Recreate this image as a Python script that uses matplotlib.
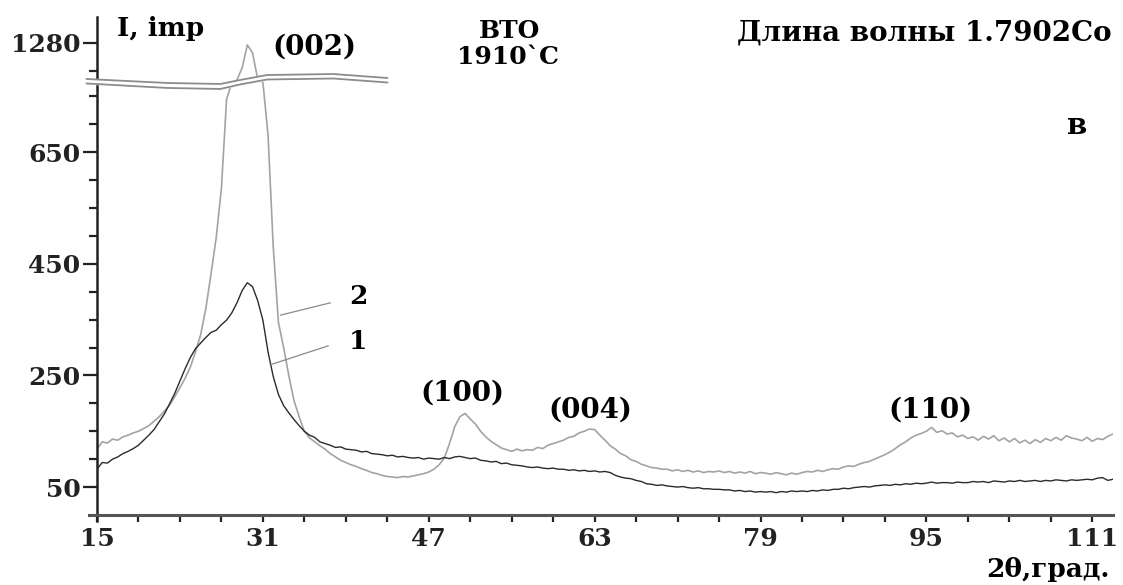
import numpy as np
import matplotlib
matplotlib.use("Agg")
import matplotlib.pyplot as plt
from matplotlib.ticker import FixedLocator
from matplotlib import transforms

plt.rcParams['font.family'] = ['DejaVu Serif']
plt.rcParams['font.weight'] = 'bold'

# --- data ---
two_theta = np.arange(15.0, 113.5, 0.5)

# curve 1 (dark)
I1 = [82, 94, 93, 100, 104, 110, 114, 119, 125, 134,
      143, 153, 167, 181, 199, 218, 240, 262, 282, 298,
      308, 318, 327, 331, 341, 349, 362, 380, 402, 416,
      409, 384, 349, 292, 248, 216, 196, 183, 171, 160,
      150, 143, 139, 131, 128, 125, 121, 122, 118, 117,
      116, 113, 114, 110, 109, 108, 106, 107, 104, 105,
      103, 102, 103, 100, 102, 101, 100, 103, 101, 104,
      105, 103, 101, 102, 98, 97, 95, 96, 92, 93,
      90, 89, 88, 86, 85, 86, 84, 83, 84, 82,
      82, 80, 81, 79, 80, 78, 79, 77, 78, 76,
      71, 68, 66, 65, 62, 60, 56, 55, 53, 54,
      52, 51, 50, 51, 49, 48, 49, 47, 47, 46,
      46, 45, 45, 43, 44, 42, 43, 41, 42, 41,
      42, 40, 42, 41, 43, 42, 43, 42, 44, 43,
      45, 44, 46, 46, 48, 47, 49, 50, 51, 50,
      52, 53, 54, 53, 55, 54, 56, 55, 57, 56,
      57, 59, 57, 58, 58, 57, 59, 58, 58, 60,
      59, 60, 58, 61, 60, 59, 61, 60, 62, 60,
      61, 62, 60, 62, 61, 63, 62, 61, 63, 62,
      63, 64, 63, 66, 67, 62, 64]

# curve 2 (light)
I2 = [118, 131, 129, 136, 134, 140, 143, 147, 150, 155,
      160, 168, 176, 186, 197, 212, 228, 245, 265, 292,
      323, 370, 432, 497, 585, 745, 850, 1160, 1235, 1276,
      1262, 1215, 950, 680, 480, 345, 300, 250, 205, 176,
      150, 138, 131, 124, 118, 110, 104, 98, 94, 90,
      87, 83, 80, 76, 74, 71, 69, 68, 67, 69,
      68, 70, 72, 74, 77, 82, 90, 102, 128, 158,
      176, 182, 172, 163, 150, 140, 132, 126, 120, 117,
      114, 118, 115, 117, 116, 121, 119, 125, 128, 131,
      134, 139, 141, 147, 150, 154, 153, 143, 134, 124,
      118, 110, 106, 99, 96, 91, 88, 85, 84, 82,
      82, 79, 81, 78, 80, 77, 79, 76, 78, 77,
      79, 76, 78, 75, 77, 75, 78, 74, 76, 75,
      73, 76, 74, 72, 75, 73, 76, 78, 77, 80,
      78, 81, 83, 82, 86, 88, 87, 91, 94, 96,
      100, 104, 108, 113, 119, 126, 131, 138, 143, 146,
      150, 157, 148, 151, 145, 147, 140, 143, 137, 140,
      134, 141, 136, 142, 133, 138, 131, 137, 129, 134,
      128, 135, 130, 137, 133, 139, 134, 142, 138, 136,
      133, 139, 132, 137, 135, 141, 145]

x_ticks = [15, 31, 47, 63, 79, 95, 111]
y_ticks = [50, 250, 450, 650, 1280]
y_minor = [100, 150, 200, 300, 350, 400, 500, 550, 600, 700, 750, 1230]

peak_labels = ["(002)", "(100)", "(004)", "(110)"]
peak_pos = [(36.0, 1272), (50.2, 218), (62.6, 188), (95.4, 188)]

# axis break shape (x in data, y in axes fraction)
band_x = [14.0, 21.8, 26.9, 28.8, 31.4, 37.8, 43.0]
band_top = [0.8755, 0.8675, 0.8655, 0.8735, 0.8835, 0.8855, 0.8775]
band_bot = [0.8665, 0.8575, 0.8555, 0.8645, 0.8745, 0.8765, 0.8685]

# --- broken y scale ---
b1, gap, off = 772.0, 8.0, 434.0
b2 = b1 + gap + off
k = gap / (b2 - b1)


def fwd(y):
    y = np.asarray(y, dtype=float)
    return np.where(y <= b1, y, np.where(y <= b2, b1 + (y - b1) * k, y - off))


def inv(t):
    t = np.asarray(t, dtype=float)
    return np.where(t <= b1, t, np.where(t <= b1 + gap, b1 + (t - b1) / k, t + off))


fig = plt.figure(figsize=(11.23, 5.85), dpi=100)
ax = fig.add_axes([97 / 1123, 70 / 585, 1016 / 1123, 498 / 585])
ax.set_yscale('function', functions=(fwd, inv))

ax.plot(two_theta, I2, color='#a3a3a3', lw=1.2, zorder=2)
ax.plot(two_theta, I1, color='#2b2b2b', lw=1.0, zorder=3)

ax.set_xlim(15, 113)
ax.set_ylim(0, 1326)

ax.set_xticks(x_ticks)
ax.xaxis.set_minor_locator(FixedLocator(np.arange(15, 113, 4)))
ax.set_yticks(y_ticks)
ax.yaxis.set_minor_locator(FixedLocator(y_minor))
ax.tick_params(axis='y', which='major', length=10, width=1.6, pad=2, labelsize=18, colors='#222222')
ax.tick_params(axis='y', which='minor', length=6, width=1.6, color='#222222')
ax.tick_params(axis='x', which='both', length=5, width=1.6, pad=4, labelsize=18, colors='#222222')
for lab in ax.get_xticklabels() + ax.get_yticklabels():
    lab.set_fontweight('bold')

for s in ['top', 'right']:
    ax.spines[s].set_visible(False)
ax.spines['left'].set_linewidth(1.8)
ax.spines['left'].set_color('#222222')
ax.spines['bottom'].set_linewidth(2.2)
ax.spines['bottom'].set_color('#555555')
# small overhang of the axis lines past the corner
ax.plot([-0.008, 0], [0, 0], transform=ax.transAxes, color='#555555', lw=2.2, clip_on=False)
ax.plot([0, 0], [-0.012, 0], transform=ax.transAxes, color='#222222', lw=1.8, clip_on=False)

# break band
tr = transforms.blended_transform_factory(ax.transData, ax.transAxes)
ax.fill_between(band_x, band_bot, band_top, transform=tr, color='white', zorder=5, clip_on=False)
ax.plot(band_x, band_top, transform=tr, color='#8c8c8c', lw=1.3, zorder=6, clip_on=False)
ax.plot(band_x, band_bot, transform=tr, color='#8c8c8c', lw=1.3, zorder=6, clip_on=False)

# curve labels with leader lines
ax.plot([32.7, 37.5], [358, 380], color='#8a8a8a', lw=0.9, zorder=4)
ax.plot([31.7, 37.3], [269, 303], color='#8a8a8a', lw=0.9, zorder=4)
ax.text(40.2, 392, "2", ha='center', va='center', fontsize=19, fontweight='bold')
ax.text(40.2, 310, "1", ha='center', va='center', fontsize=19, fontweight='bold')

for lab, (px, py) in zip(peak_labels, peak_pos):
    ax.text(px, py, lab, ha='center', va='center', fontsize=20, fontweight='bold')

fig.text(0.104, 0.952, "I, imp", ha='left', va='center', fontsize=19, fontweight='bold')
fig.text(0.454, 0.947, "BTO", ha='center', va='center', fontsize=18, fontweight='bold')
fig.text(0.452, 0.902, "1910`C", ha='center', va='center', fontsize=18, fontweight='bold')
fig.text(0.990, 0.944, "Длина волны 1.7902Co", ha='right', va='center', fontsize=20, fontweight='bold')
fig.text(0.959, 0.786, "в", ha='center', va='center', fontsize=21, fontweight='bold')
fig.text(0.988, 0.026, "2θ,град.", ha='right', va='center', fontsize=19, fontweight='bold')

fig.savefig("out.png", dpi=100)
